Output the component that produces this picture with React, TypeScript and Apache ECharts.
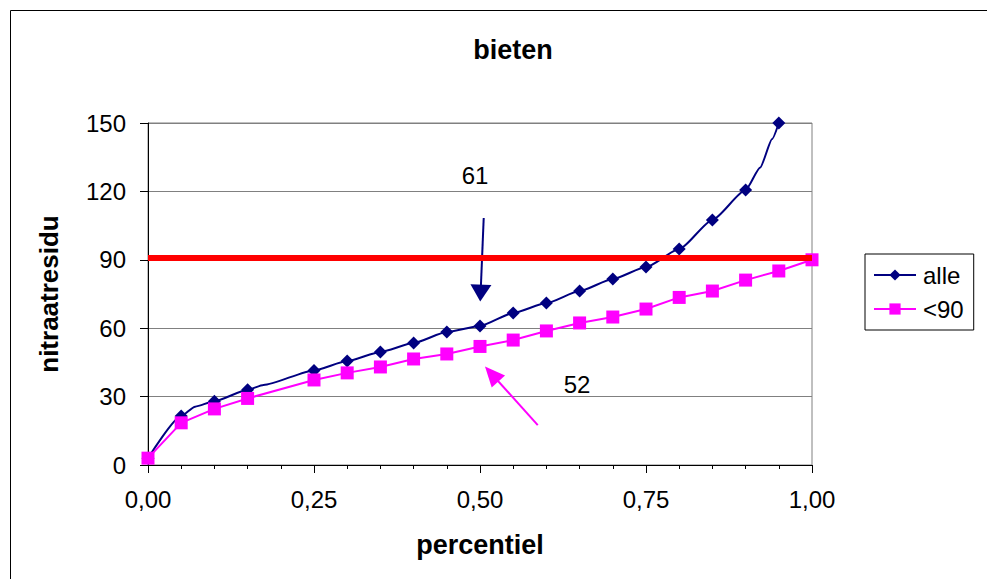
import React, { useEffect, useRef } from "react";
import * as echarts from "echarts";

// percentile positions (fraction) and nitrate residue values
const percentiles = [0, 0.05, 0.1, 0.15, 0.25, 0.3, 0.35, 0.4, 0.45, 0.5, 0.55, 0.6, 0.65, 0.7, 0.75, 0.8, 0.85, 0.9, 0.95, 1.0];
const alleValues = [3, 21.5, 28, 33, 41.5, 45.6, 49.6, 53.5, 58.3, 61, 66.7, 71, 76.3, 81.6, 86.8, 94.7, 107.5, 120.6, 150, null];
const onder90Values = [3, 18.5, 24.6, 29.2, 37.3, 40.4, 43, 46.5, 48.7, 52, 54.8, 58.8, 62.3, 64.9, 68.4, 73.5, 76.3, 81.1, 85.1, 90];
// extra unmarked points on the "alle" curve
const alleExtra = [
  [0.071, 25.6],
  [0.174, 35.1],
  [0.922, 130.5],
  [0.94, 143],
];
const normValue = 91;
const labelAlle = "61";
const label90 = "52";

const yTicks = { min: 0, max: 150, interval: 30 };
const xTicks = { min: 0, max: 1, interval: 0.25 };

export default function App() {
  const ref = useRef<HTMLDivElement>(null);

  useEffect(() => {
    if (!ref.current) return;
    const chart = echarts.init(ref.current, null, { renderer: "svg" });

    const alleData: any[] = [];
    percentiles.forEach((p, i) => {
      if (alleValues[i] != null) alleData.push([p, alleValues[i]]);
    });
    alleExtra.forEach((pt) => alleData.push({ value: pt, symbol: "none" }));
    alleData.sort((a, b) => {
      const av = Array.isArray(a) ? a[0] : a.value[0];
      const bv = Array.isArray(b) ? b[0] : b.value[0];
      return av - bv;
    });
    const onderData = percentiles.map((p, i) => [p, onder90Values[i]]);

    const font = "Arial, 'Liberation Sans', sans-serif";

    chart.setOption({
      animation: false,
      backgroundColor: "#fff",
      textStyle: { fontFamily: font },
      title: {
        text: "bieten",
        left: 508,
        top: 31,
        textAlign: "center",
        textStyle: { fontSize: 27, fontWeight: "bold", color: "#000", fontFamily: font },
      },
      legend: {
        orient: "vertical",
        left: 865,
        top: 254,
        padding: [9, 10, 9, 8],
        itemGap: 10,
        itemWidth: 42,
        itemHeight: 14,
        borderColor: "#000",
        borderWidth: 1,
        textStyle: { fontSize: 24, color: "#000", fontFamily: font, padding: [0, 0, 0, 2] },
        data: ["alle", "<90"],
      },
      grid: {
        left: 148,
        right: 175,
        top: 123,
        bottom: 114,
        show: true,
        borderColor: "#808080",
        borderWidth: 1,
      },
      xAxis: {
        type: "value",
        min: xTicks.min,
        max: xTicks.max,
        interval: xTicks.interval,
        name: "percentiel",
        nameLocation: "middle",
        nameGap: 66,
        nameTextStyle: { fontSize: 27, fontWeight: "bold", color: "#000", fontFamily: font },
        axisLine: { lineStyle: { color: "#000", width: 1 } },
        axisTick: { length: 8, lineStyle: { color: "#000" } },
        minorTick: { show: true, splitNumber: 5, length: 4, lineStyle: { color: "#000" } },
        splitLine: { show: false },
        axisLabel: {
          fontSize: 24,
          color: "#000",
          margin: 22,
          fontFamily: font,
          formatter: (v: number) => v.toFixed(2).replace(".", ","),
        },
      },
      yAxis: {
        type: "value",
        min: yTicks.min,
        max: yTicks.max,
        interval: yTicks.interval,
        name: "nitraatresidu",
        nameLocation: "middle",
        nameGap: 86,
        nameTextStyle: { fontSize: 26, fontWeight: "bold", color: "#000", fontFamily: font },
        axisLine: { show: true, lineStyle: { color: "#000", width: 1 } },
        axisTick: { show: true, length: 8, lineStyle: { color: "#000" } },
        splitLine: { show: true, lineStyle: { color: "#808080", width: 1 } },
        axisLabel: { fontSize: 24, color: "#000", margin: 22, fontFamily: font },
      },
      series: [
        {
          name: "alle",
          type: "line",
          data: alleData,
          smooth: 0.2,
          smoothMonotone: "x",
          symbol: "diamond",
          symbolSize: 13,
          color: "#000080",
          lineStyle: { color: "#000080", width: 2 },
          itemStyle: { color: "#000080" },
          z: 3,
          markLine: {
            silent: true,
            symbol: ["none", "triangle"],
            symbolSize: [21, 17],
            label: { show: false },
            lineStyle: { color: "#000080", width: 2, type: "solid" },
            data: [[{ coord: [0.5056, 108.3] }, { coord: [0.5009, 75.4] }]],
          },
        },
        {
          name: "<90",
          type: "line",
          data: onderData,
          symbol: "rect",
          symbolSize: 13,
          color: "#FF00FF",
          lineStyle: { color: "#FF00FF", width: 2 },
          itemStyle: { color: "#FF00FF" },
          z: 4,
          markLine: {
            silent: true,
            symbol: ["none", "triangle"],
            symbolSize: [18, 20],
            label: { show: false },
            lineStyle: { color: "#FF00FF", width: 2, type: "solid" },
            data: [[{ coord: [0.587, 17.5] }, { coord: [0.5176, 39.9] }]],
          },
        },
        {
          name: "norm",
          type: "line",
          data: [],
          z: 2,
          markLine: {
            silent: true,
            symbol: ["none", "none"],
            label: { show: false },
            lineStyle: { color: "#FF0000", width: 6, type: "solid" },
            data: [{ yAxis: normValue }],
          },
        },
      ],
      graphic: [
        {
          type: "rect",
          shape: { x: 10.5, y: 10.5, width: 1000, height: 600 },
          style: { fill: "none", stroke: "#000", lineWidth: 1 },
          silent: true,
          z: -1,
        },
        {
          type: "text",
          x: 475,
          y: 175,
          style: {
            text: labelAlle,
            fontSize: 24,
            fontFamily: font,
            fill: "#000",
            align: "center",
            verticalAlign: "middle",
          },
        },
        {
          type: "text",
          x: 577,
          y: 384,
          style: {
            text: label90,
            fontSize: 24,
            fontFamily: font,
            fill: "#000",
            align: "center",
            verticalAlign: "middle",
          },
        },
      ],
    });

    return () => chart.dispose();
  }, []);

  return (
    <div
      ref={ref}
      style={{ position: "fixed", left: 0, top: 0, width: 987, height: 579, background: "#fff" }}
    />
  );
}
